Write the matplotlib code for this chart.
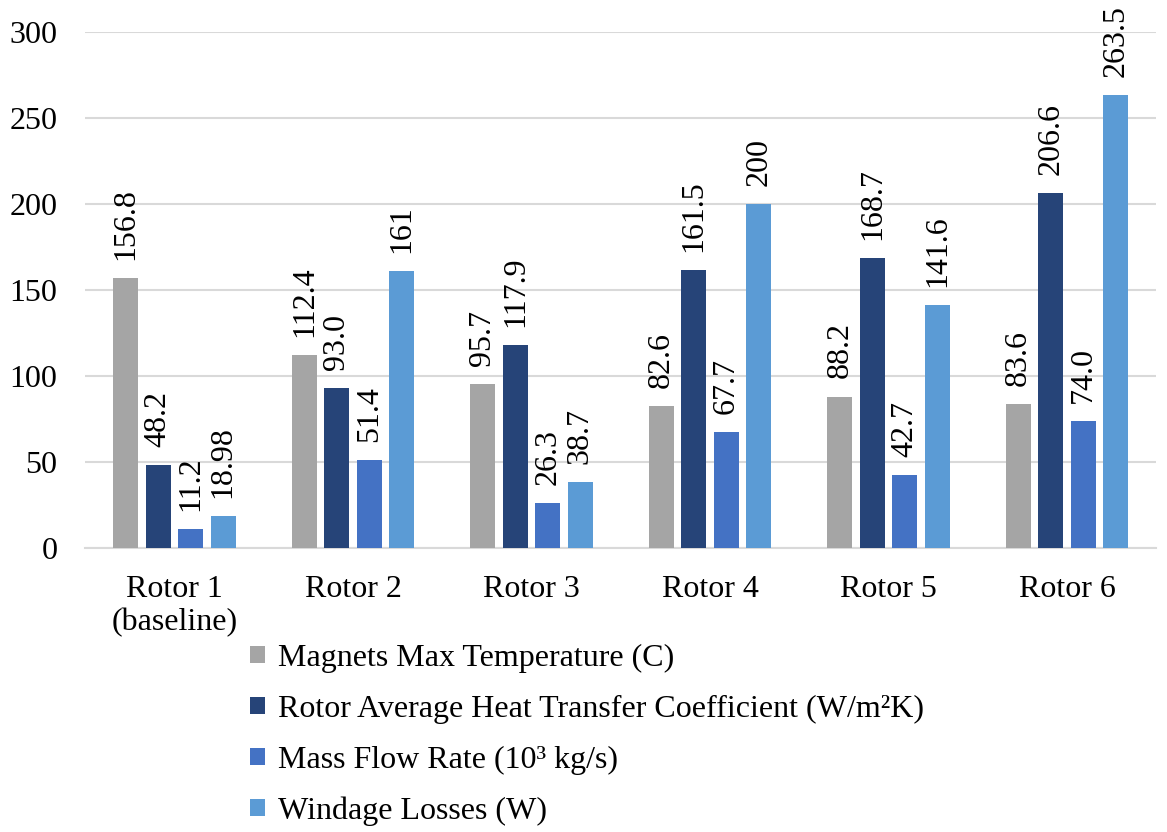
import numpy as np
from matplotlib import pyplot as plt

plt.rcParams['font.family'] = ['Liberation Serif', 'DejaVu Serif']

categories = ["Rotor 1\n(baseline)", "Rotor 2", "Rotor 3", "Rotor 4", "Rotor 5", "Rotor 6"]
magnet_temp = [156.8, 112.4, 95.7, 82.6, 88.2, 83.6]
heat_transfer = [48.2, 93.0, 117.9, 161.5, 168.7, 206.6]
mass_flow = [11.2, 51.4, 26.3, 67.7, 42.7, 74.0]
windage = [18.98, 161, 38.7, 200, 141.6, 263.5]

series = [
    ("Magnets Max Temperature (C)", magnet_temp, "#A5A5A5", "{:.1f}"),
    ("Rotor Average Heat Transfer Coefficient (W/m\u00b2K)", heat_transfer, "#264478", "{:.1f}"),
    ("Mass Flow Rate (10\u00b3 kg/s)", mass_flow, "#4472C4", "{:.1f}"),
    ("Windage Losses (W)", windage, "#5B9BD5", "{:g}"),
]

fs = 23

fig = plt.figure(figsize=(11.67, 8.32), dpi=100)
ax = fig.add_axes([0.073, 0.341, 0.918, 0.6205])

x = np.arange(len(categories))
pitch = 0.182
width = 0.14
for i, (name, vals, color, fmt) in enumerate(series):
    pos = x + (i - 1.5) * pitch
    bars = ax.bar(pos, vals, width, color=color, label=name, zorder=3)
    for b, v in zip(bars, vals):
        ax.annotate(fmt.format(v), (b.get_x() + b.get_width() / 2, v),
                    xytext=(0, 13), textcoords='offset points',
                    rotation=90, ha='center', va='bottom', fontsize=fs,
                    annotation_clip=False)

ax.set_xlim(-0.5, len(categories) - 0.5)
ax.set_ylim(0, 300)
ax.set_yticks(np.arange(0, 301, 50))
ax.set_xticks(x)
ax.set_xticklabels(categories, fontsize=fs, linespacing=1.2)
ax.tick_params(axis='y', labelsize=fs, length=0, pad=20)
ax.tick_params(axis='x', length=0, pad=19)
ax.grid(axis='y', color='#D9D9D9', linewidth=1.5, zorder=0)
for s in ['top', 'right', 'left']:
    ax.spines[s].set_visible(False)
ax.spines['bottom'].set_color('#D9D9D9')
ax.spines['bottom'].set_linewidth(1.5)

fig.legend(loc='upper left', bbox_to_anchor=(0.214, 0.226), ncol=1, frameon=False,
           fontsize=fs, handlelength=0.47, handleheight=0.47, handletextpad=0.4,
           labelspacing=0.68, borderaxespad=0, borderpad=0)

plt.savefig("out.png", dpi=100)
